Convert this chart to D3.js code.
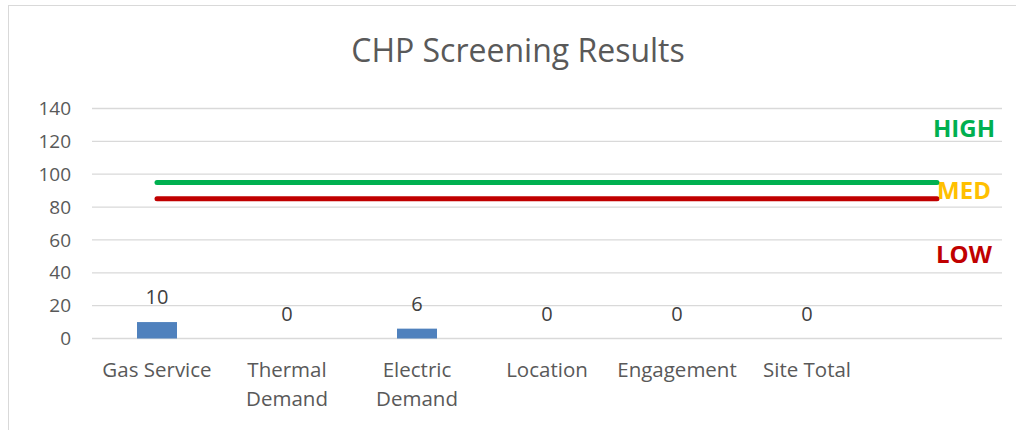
<html>
<meta charset="utf-8"></meta>
<script src="https://cdn.jsdelivr.net/npm/d3@7"></script>
<style>
body{margin:0;background:#fff;}
text{font-family:"Open Sans",sans-serif;}
</style>
<body>
<svg id="chart" width="1016" height="430"></svg>
<script>
// chart data
var categories = ["Gas Service", "Thermal Demand", "Electric Demand", "Location", "Engagement", "Site Total", ""];
var scores = [10, 0, 6, 0, 0, 0, null];
var highLine = [95, 95, 95, 95, 95, 95, 95];
var lowLine = [85, 85, 85, 85, 85, 85, 85];
var yTicks = [0, 20, 40, 60, 80, 100, 120, 140];
var bandLabels = [{text:"HIGH", value:128, color:"#00B050"}, {text:"MED", value:90, color:"#FFC000"}, {text:"LOW", value:51, color:"#C00000"}];

function draw(){
	var svg = d3.select("#chart");
	var pLeft = 92, pRight = 1002, pTop = 108.5, pBottom = 338.5;

	svg.append("rect").attr("x", 8.5).attr("y", 5.5).attr("width", 1020).attr("height", 440)
		.attr("fill", "#fff").attr("stroke", "#d9d9d9");

	svg.append("text").attr("x", 518).attr("y", 62).attr("text-anchor", "middle")
		.attr("font-size", 32).attr("fill", "#595959").text("CHP Screening Results");

	var x = d3.scaleBand().domain(categories.map(function(d, i){ return i; })).range([pLeft, pRight]);
	var y = d3.scaleLinear().domain([0, 140]).range([pBottom, pTop]);

	// gridlines
	svg.append("g").selectAll("line").data(yTicks).enter().append("line")
		.attr("x1", pLeft).attr("x2", pRight)
		.attr("y1", function(d){ return y(d); }).attr("y2", function(d){ return y(d); })
		.attr("stroke", "#d9d9d9").attr("stroke-width", 1.3);

	// y axis labels
	var yAxis = d3.axisLeft(y).tickValues(yTicks).tickSize(0).tickPadding(0);
	var ga = svg.append("g").attr("transform", "translate(71,0)").call(yAxis);
	ga.select(".domain").remove();
	ga.selectAll("text").attr("font-size", 19).attr("fill", "#595959").attr("font-family", "Open Sans");

	// bars
	var barW = 40;
	svg.append("g").selectAll("rect").data(scores).enter().filter(function(d){ return d !== null; })
		.append("rect")
		.attr("x", function(d, i){ return x(i) + x.bandwidth()/2 - barW/2; })
		.attr("y", function(d){ return y(d); })
		.attr("width", barW)
		.attr("height", function(d){ return y(0) - y(d); })
		.attr("fill", "#4F81BD");

	// value labels
	svg.append("g").selectAll("text").data(scores).enter().filter(function(d){ return d !== null; })
		.append("text")
		.attr("x", function(d, i){ return x(i) + x.bandwidth()/2; })
		.attr("y", function(d){ return y(d) - 25; })
		.attr("dy", "0.35em")
		.attr("text-anchor", "middle").attr("font-size", 20).attr("fill", "#404040")
		.text(function(d){ return d; });

	// threshold lines
	var line = d3.line().x(function(d, i){ return x(i) + x.bandwidth()/2; }).y(function(d){ return y(d); });
	svg.append("path").datum(highLine).attr("d", line).attr("fill", "none")
		.attr("stroke", "#00B050").attr("stroke-width", 5).attr("stroke-linecap", "round");
	svg.append("path").datum(lowLine).attr("d", line).attr("fill", "none")
		.attr("stroke", "#C00000").attr("stroke-width", 5).attr("stroke-linecap", "round");

	// band labels
	svg.append("g").selectAll("text").data(bandLabels).enter().append("text")
		.attr("x", 964).attr("y", function(d){ return y(d.value); }).attr("dy", "0.35em")
		.attr("text-anchor", "middle").attr("font-size", 24).attr("font-weight", "bold")
		.attr("fill", function(d){ return d.color; })
		.text(function(d){ return d.text; });

	// category labels (wrapped)
	var cg = svg.append("g").selectAll("text").data(categories).enter().append("text")
		.attr("text-anchor", "middle").attr("font-size", 20.5).attr("fill", "#595959");
	cg.each(function(d, i){
		var words = d.length > 11 ? d.split(" ") : [d];
		var t = d3.select(this);
		words.forEach(function(w, k){
			t.append("tspan").attr("x", x(i) + x.bandwidth()/2).attr("y", 377 + k*29).text(w);
		});
	});
}
draw();
</script>
</body>
</html>
